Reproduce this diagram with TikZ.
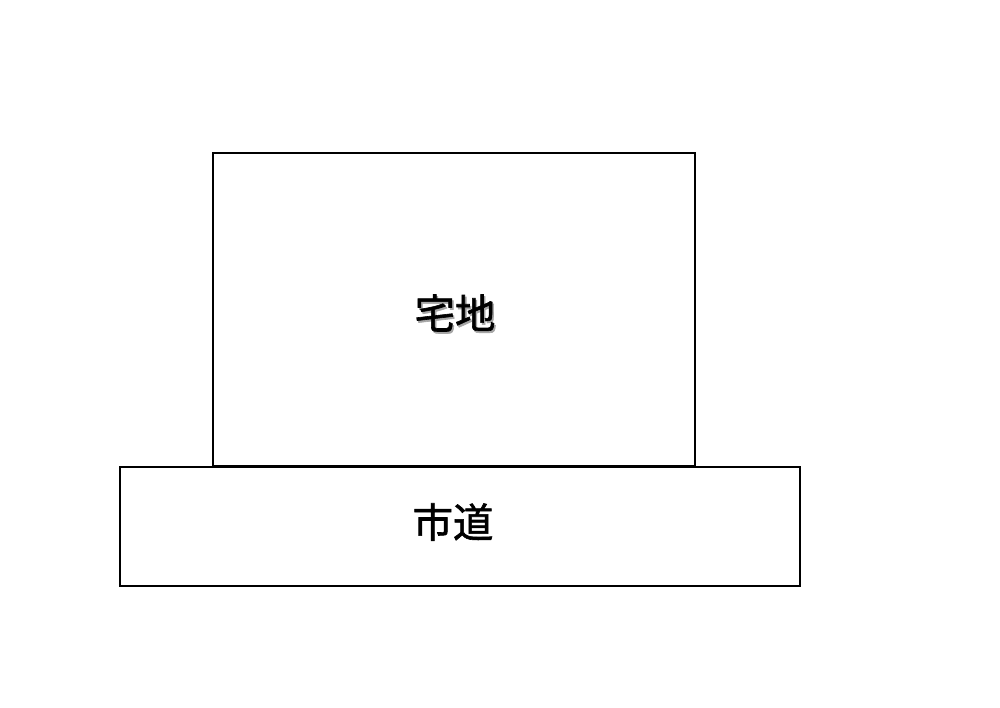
\documentclass[tikz,border=0pt]{standalone}
\usepackage{fontspec}
\newfontfamily\cjk{Noto Sans CJK JP}[FakeBold=1.5]
\begin{document}
\begin{tikzpicture}[x=0.02cm,y=-0.02cm,
  lot/.style={draw=black,line width=1.3pt,fill=white},
  lbl/.style={font=\cjk\fontsize{23}{27}\selectfont,inner sep=0pt}]
\useasboundingbox (0,0) rectangle (1000,707);
\fill[white] (0,0) rectangle (1000,707);
\draw[lot] (120,467) rectangle (800,586);
\draw[lot] (213,153) rectangle (695,466);
\node[lbl,text=black!35] (takushadow) at (456.5,315) {宅地};
\node[lbl] (takuchi) at (455,313) {宅地};
\node[lbl] (shido) at (453,522) {市道};
\end{tikzpicture}
\end{document}
